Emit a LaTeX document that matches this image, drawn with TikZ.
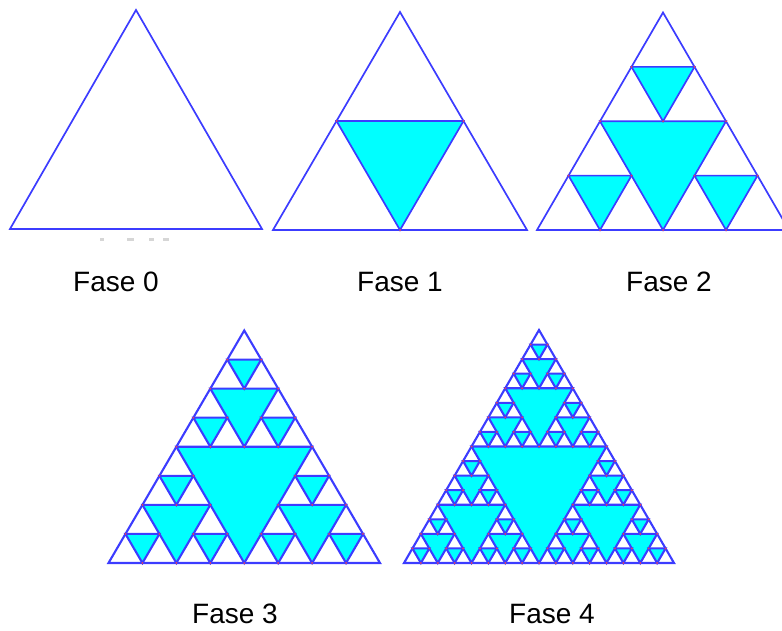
\documentclass[tikz,border=0pt]{standalone}
\usepackage{fontspec}
\setmainfont{Liberation Sans}
\definecolor{lineblue}{RGB}{60,60,255}
\definecolor{holecyan}{RGB}{0,255,255}
\definecolor{dotred}{RGB}{235,60,90}
\tikzset{
  tri/.style={draw=lineblue, line width=\lw, line join=miter},
  hole/.style={fill=holecyan, draw=lineblue, line width=\lw, line join=miter},
  vdot/.style={fill=dotred, draw=none},
  label/.style={font=\fontsize{28bp}{30bp}\selectfont, anchor=base, inner sep=0pt, text=black},
  smudge/.style={fill=black!16, draw=none}
}
\def\lw{1.7bp}
\newif\ifsdots
% #1 depth, #2 left x, #3 base y, #4 width, #5 height  (y downwards)
\def\sierp#1#2#3#4#5{%
  \ifnum#1>0
    \begingroup
      \pgfmathsetmacro\X{#2}\pgfmathsetmacro\Y{#3}%
      \pgfmathsetmacro\W{#4}\pgfmathsetmacro\H{#5}%
      \pgfmathsetmacro\hw{\W/2}\pgfmathsetmacro\hh{\H/2}%
      \pgfmathsetmacro\xa{\X+\W/4}\pgfmathsetmacro\xb{\X+\W/2}%
      \pgfmathsetmacro\xc{\X+3*\W/4}\pgfmathsetmacro\ym{\Y-\H/2}%
      \ifsdots
        \fill[vdot] (\xa,\ym) circle (1bp) (\xc,\ym) circle (1bp) (\xb,\Y) circle (1bp);
      \else
        \filldraw[hole] (\xa,\ym) -- (\xc,\ym) -- (\xb,\Y) -- cycle;
      \fi
      \pgfmathtruncatemacro\dd{#1-1}%
      \edef\tmpcalls{%
        \noexpand\sierp{\dd}{\X}{\Y}{\hw}{\hh}%
        \noexpand\sierp{\dd}{\xb}{\Y}{\hw}{\hh}%
        \noexpand\sierp{\dd}{\xa}{\ym}{\hw}{\hh}}%
      \tmpcalls
    \endgroup
  \fi}
\def\sierptri#1#2#3#4#5{%
  \begingroup
  \pgfmathsetmacro\Xr{#2+#4}\pgfmathsetmacro\Xm{#2+#4/2}\pgfmathsetmacro\Yt{#3-#5}%
  \draw[tri] (#2,#3) -- (\Xr,#3) -- (\Xm,\Yt) -- cycle;
  \sdotsfalse\sierp{#1}{#2}{#3}{#4}{#5}%
  \sdotstrue\sierp{#1}{#2}{#3}{#4}{#5}%
  \endgroup}
\begin{document}
\begin{tikzpicture}[x=1bp, y=-1bp]
  \useasboundingbox (0,0) rectangle (782,631);
  \clip (0,0) rectangle (782,631);
  \sierptri{0}{10}{229}{252}{219}
  \sierptri{1}{273}{230}{254}{218}
  \sierptri{2}{537}{230}{252}{217.5}
  \def\lw{2.1bp}
  \sierptri{3}{108.5}{563}{271.5}{232.5}
  \sierptri{4}{404}{563}{270}{233}
  % faint marks under Fase 0
  \fill[smudge] (100,238) rectangle (104,240.5);
  \fill[smudge] (127,238) rectangle (134,240.5);
  \fill[smudge] (149,238) rectangle (154,240.5);
  \fill[smudge] (163,238) rectangle (169,240.5);
  \node[label] (f0) at (116,291.5) {Fase 0};
  \node[label] (f1) at (400,291.5) {Fase 1};
  \node[label] (f2) at (669,291.5) {Fase 2};
  \node[label] (f3) at (235,623) {Fase 3};
  \node[label] (f4) at (552,623) {Fase 4};
\end{tikzpicture}
\end{document}
